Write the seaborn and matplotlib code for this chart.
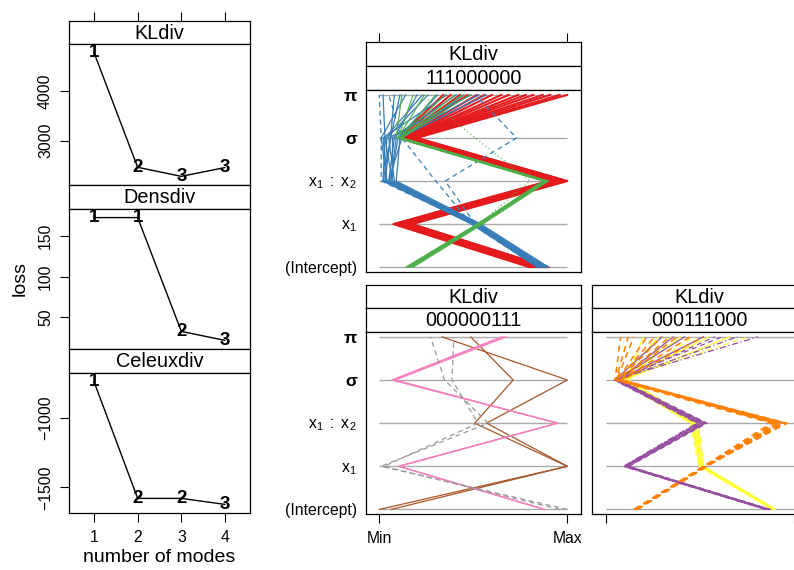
import matplotlib
matplotlib.use("Agg")
import matplotlib.pyplot as plt
import pandas as pd
import seaborn as sns

# ---------------- loss against number of modes ----------------
n_modes = [1, 2, 3, 4]
kl_loss = [4790, 2455, 2271, 2450]
kl_found = ["1", "2", "3", "3"]
dens_loss = [172, 172, 33, 22]
dens_found = ["1", "1", "2", "3"]
celeux_loss = [-742, -1578, -1578, -1621]
celeux_found = ["1", "2", "2", "3"]

kl_ticks = [3000, 4000]
dens_ticks = [50, 100, 150]
celeux_ticks = [-1500, -1000]

# ---------------- scaled coefficient profiles (0 = Min, 1 = Max) ----------------
# columns: (Intercept), x1, x1:x2, sigma, pi
coef_labels = ["(Intercept)", r"$\mathrm{x}_1$", r"$\mathrm{x}_1\ :\ \mathrm{x}_2$", "σ", "π"]

# mask 111000000
red_a = [
    [0.800, 0.075, 0.900, 0.100, 0.34],
    [0.806, 0.082, 0.907, 0.106, 0.38],
    [0.814, 0.088, 0.913, 0.114, 0.43],
    [0.820, 0.095, 0.921, 0.120, 0.47],
    [0.826, 0.101, 0.927, 0.127, 0.52],
    [0.834, 0.108, 0.933, 0.132, 0.56],
    [0.840, 0.116, 0.940, 0.140, 0.60],
    [0.846, 0.121, 0.948, 0.147, 0.65],
    [0.853, 0.128, 0.953, 0.154, 0.69],
    [0.861, 0.135, 0.960, 0.160, 0.74],
    [0.866, 0.142, 0.966, 0.167, 0.78],
    [0.874, 0.148, 0.973, 0.172, 0.82],
    [0.880, 0.155, 0.980, 0.180, 0.87],
    [0.887, 0.161, 0.987, 0.186, 0.91],
    [0.893, 0.168, 0.993, 0.194, 0.96],
    [0.900, 0.175, 1.000, 0.200, 1.00],
]
red_a_lty = ["solid"] * 16

blue_a = [
    [0.84, 0.49, 0.02, 0.03, 0.02],
    [0.85, 0.50, 0.03, 0.06, 0.08],
    [0.86, 0.50, 0.04, 0.01, 0.14],
    [0.85, 0.50, 0.05, 0.08, 0.20],
    [0.87, 0.51, 0.03, 0.04, 0.26],
    [0.88, 0.52, 0.06, 0.10, 0.31],
    [0.86, 0.51, 0.04, 0.02, 0.36],
    [0.88, 0.52, 0.07, 0.07, 0.41],
    [0.87, 0.52, 0.05, 0.12, 0.45],
    [0.89, 0.53, 0.08, 0.05, 0.49],
    [0.88, 0.53, 0.06, 0.09, 0.53],
    [0.90, 0.54, 0.09, 0.11, 0.57],
    [0.86, 0.51, 0.02, 0.06, 0.11],
    [0.89, 0.52, 0.07, 0.03, 0.23],
    [0.90, 0.50, 0.01, 0.01, 0.00],
    [0.86, 0.51, 0.35, 0.73, 0.51],
    [0.84, 0.49, 0.30, 0.12, 0.05],
]
blue_a_lty = ["solid"] * 14 + ["dashed"] * 3

green_a = [
    [0.14, 0.52, 0.87, 0.09, 0.12],
    [0.15, 0.52, 0.875, 0.10, 0.18],
    [0.15, 0.53, 0.88, 0.10, 0.24],
    [0.16, 0.53, 0.885, 0.11, 0.30],
    [0.16, 0.53, 0.89, 0.11, 0.35],
    [0.17, 0.54, 0.89, 0.12, 0.40],
    [0.17, 0.54, 0.895, 0.12, 0.44],
    [0.18, 0.55, 0.90, 0.12, 0.48],
    [0.17, 0.53, 0.80, 0.51, 0.23],
]
green_a_lty = ["solid"] * 8 + ["dotted"]

# mask 000000111
brown_b = [
    [0.000, 1.000, 0.570, 1.000, 0.333],
    [0.062, 1.000, 0.507, 0.712, 0.486],
]
brown_b_lty = ["solid", "solid"]

pink_b = [
    [0.880, 0.103, 0.948, 0.066, 0.650],
    [0.880, 0.103, 0.948, 0.075, 0.663],
    [0.880, 0.103, 0.948, 0.085, 0.676],
]
pink_b_lty = ["solid"] * 3

grey_b = [
    [1.000, 0.010, 0.578, 0.347, 0.272],
    [0.960, 0.025, 0.525, 0.386, 0.397],
]
grey_b_lty = ["dashed", "dashed"]

# mask 000111000
yellow_c = [
    [0.885, 0.495, 0.450, 0.070, 0.76],
    [0.888, 0.500, 0.456, 0.078, 0.28],
    [0.890, 0.503, 0.462, 0.085, 0.55],
    [0.893, 0.506, 0.468, 0.092, 0.40],
    [0.896, 0.510, 0.474, 0.100, 0.66],
    [0.899, 0.514, 0.480, 0.108, 0.20],
    [0.902, 0.518, 0.486, 0.115, 0.47],
    [0.905, 0.522, 0.492, 0.120, 0.35],
]
yellow_c_lty = ["dashed", "solid", "solid", "solid", "solid", "solid", "dashed", "solid"]

purple_c = [
    [0.850, 0.095, 0.485, 0.045, 0.81],
    [0.854, 0.099, 0.493, 0.050, 0.30],
    [0.858, 0.103, 0.500, 0.054, 0.62],
    [0.862, 0.107, 0.508, 0.058, 0.42],
    [0.866, 0.111, 0.516, 0.062, 0.70],
    [0.870, 0.115, 0.524, 0.066, 0.52],
    [0.874, 0.119, 0.532, 0.070, 0.36],
    [0.878, 0.124, 0.540, 0.075, 0.58],
]
purple_c_lty = ["dashdot", "solid", "dashed", "solid", "dashdot", "solid", "solid", "dashed"]

orange_c = [
    [0.150, 0.520, 0.880, 0.050, 0.08],
    [0.160, 0.530, 0.965, 0.058, 0.15],
    [0.155, 0.522, 0.905, 0.062, 0.22],
    [0.165, 0.535, 0.950, 0.054, 0.12],
    [0.152, 0.526, 0.925, 0.070, 0.30],
    [0.168, 0.540, 0.935, 0.066, 0.26],
    [0.158, 0.528, 0.893, 0.080, 0.38],
    [0.162, 0.533, 0.958, 0.085, 0.45],
    [0.170, 0.537, 0.915, 0.075, 0.34],
    [0.157, 0.531, 0.943, 0.090, 0.52],
]
orange_c_lty = ["dashed"] * 10

SET1 = {
    "red": "#E41A1C", "blue": "#377EB8", "green": "#4DAF4A",
    "purple": "#984EA3", "orange": "#FF7F00", "yellow": "#FFFF33",
    "brown": "#A65628", "pink": "#F781BF", "grey": "#999999",
}
DASHES = {"solid": "", "dashed": (4, 3), "dotted": (1, 2.5), "dashdot": (5, 2, 1, 2)}

# ---------------- styling ----------------
sns.set_theme(style="ticks")
plt.rcParams["font.family"] = ["Liberation Sans", "DejaVu Sans"]
plt.rcParams["mathtext.fontset"] = "custom"
plt.rcParams["mathtext.rm"] = "Liberation Sans"
plt.rcParams["mathtext.it"] = "Liberation Sans:italic"
plt.rcParams["mathtext.bf"] = "Liberation Sans:bold"
plt.rcParams["axes.linewidth"] = 0.9
plt.rcParams["axes.edgecolor"] = "black"
plt.rcParams["text.color"] = "black"
plt.rcParams["axes.labelcolor"] = "black"
plt.rcParams["xtick.color"] = "black"
plt.rcParams["ytick.color"] = "black"
plt.rcParams["xtick.labelcolor"] = "black"
plt.rcParams["ytick.labelcolor"] = "black"

W, H = 794, 570
fig = plt.figure(figsize=(W / 100, H / 100), dpi=100)

STRIP_SIZE = 14.3
TICK_SIZE = 11.3
TICK_LEN = 6.5


def box(x0, y0, x1, y1):
    return [x0 / W, 1 - y1 / H, (x1 - x0) / W, (y1 - y0) / H]


def strip(x0, y0, x1, y1, text):
    sax = fig.add_axes(box(x0, y0, x1, y1))
    sax.set_xticks([])
    sax.set_yticks([])
    sax.set_facecolor("white")
    sax.text(0.5, 0.47, text, ha="center", va="center", size=STRIP_SIZE,
             color="black", transform=sax.transAxes)
    return sax


# ---------------- left column ----------------
LX0, LX1 = 69, 250
left_xlim = (0.4275, 4.5725)
left_rows = [
    ("KLdiv", kl_loss, kl_found, kl_ticks, 21, 44, 185),
    ("Densdiv", dens_loss, dens_found, dens_ticks, 185, 209, 349),
    ("Celeuxdiv", celeux_loss, celeux_found, celeux_ticks, 349, 373, 513),
]
for i, (name, loss, found, yt, s0, p0, p1) in enumerate(left_rows):
    sax = strip(LX0, s0, LX1, p0, name)
    if i == 0:
        sax.set_xlim(left_xlim)
        sax.set_xticks(n_modes)
        sax.tick_params(axis="x", top=True, bottom=False, labeltop=False,
                        labelbottom=False, length=TICK_LEN, width=0.8, direction="out")
    ax = fig.add_axes(box(LX0, p0, LX1, p1))
    sns.lineplot(x=n_modes, y=loss, color="black", linewidth=1.0,
                 estimator=None, sort=False, ax=ax)
    for xv, yv, lab in zip(n_modes, loss, found):
        ax.text(xv, yv, lab, ha="center", va="center", fontsize=13.5,
                fontweight="bold", color="black")
    lo, hi = min(loss), max(loss)
    pad = 0.07 * (hi - lo)
    ax.set_ylim(lo - pad, hi + pad)
    ax.set_xlim(left_xlim)
    ax.set_yticks(yt)
    ax.set_yticklabels([f"{v:d}".replace("-", "\u2212") for v in yt])
    ax.tick_params(axis="y", left=True, right=False, length=TICK_LEN, width=0.8,
                   labelsize=TICK_SIZE, pad=5, labelrotation=90)
    for lab in ax.get_yticklabels():
        lab.set_va("center")
    ax.set_xticks(n_modes)
    last = i == len(left_rows) - 1
    ax.tick_params(axis="x", bottom=last, top=False, labelbottom=last,
                   length=TICK_LEN, width=0.8, labelsize=TICK_SIZE, pad=6)
    ax.set_xlabel("")
    ax.set_ylabel("")

fig.text(20 / W, 1 - 279 / H, "loss", rotation=90, ha="center", va="center", size=14)
fig.text(159.5 / W, 1 - 558 / H, "number of modes", ha="center", va="center", size=14)

# ---------------- right panels ----------------
levels = [1, 2, 3, 4, 5]
right_xlim = (-0.0707, 1.0707)
right_ylim = (0.895, 5.105)


def draw_cluster(ax, lines, ltys, color, lw):
    recs = []
    for k, (vals, lty) in enumerate(zip(lines, ltys)):
        for lvl, v in zip(levels, vals):
            recs.append({"line": k, "level": lvl, "value": v, "lty": lty})
    df = pd.DataFrame(recs)
    used = {s: DASHES[s] for s in df["lty"].unique()}
    sns.lineplot(data=df, x="value", y="level", units="line", estimator=None,
                 sort=False, style="lty", dashes=used, color=color,
                 linewidth=lw, legend=False, ax=ax)


def parallel_panel(x0, x1, s0, s1, p0, p1, mask, clusters, ylabels, bottom, toplabels=False):
    top = strip(x0, s0, x1, s1, "KLdiv")
    strip(x0, s1, x1, p0, mask)
    if toplabels:
        top.set_xlim(right_xlim)
        top.set_xticks([0, 1])
        top.tick_params(axis="x", top=True, bottom=False, labeltop=False,
                        labelbottom=False, length=TICK_LEN, width=0.8, direction="out")
    ax = fig.add_axes(box(x0, p0, x1, p1))
    ax.hlines(levels, 0, 1, colors="#AAAAAA", linewidth=1.0, zorder=0.5)
    for lines, ltys, col, lw in clusters:
        draw_cluster(ax, lines, ltys, SET1[col], lw)
    ax.set_xlim(right_xlim)
    ax.set_ylim(right_ylim)
    ax.set_yticks(levels)
    if ylabels:
        ax.set_yticklabels(coef_labels)
        for lab in ax.get_yticklabels()[3:]:
            lab.set_fontweight("bold")
            lab.set_fontsize(12.5)
    else:
        ax.set_yticklabels([])
    ax.tick_params(axis="y", left=False, right=False, length=0, pad=6.5,
                   labelsize=TICK_SIZE)
    if ylabels:
        for lab in ax.get_yticklabels()[3:]:
            lab.set_fontsize(12.5)
    ax.set_xticks([0, 1])
    if bottom == "labels":
        ax.set_xticklabels(["Min", "Max"])
        ax.tick_params(axis="x", bottom=True, labelbottom=True, length=TICK_LEN,
                       width=0.8, labelsize=TICK_SIZE, pad=6)
    elif bottom == "ticks":
        ax.tick_params(axis="x", bottom=True, labelbottom=False, length=TICK_LEN,
                       width=0.8)
    else:
        ax.tick_params(axis="x", bottom=False, labelbottom=False)
    ax.set_xlabel("")
    ax.set_ylabel("")
    return ax


parallel_panel(366, 580.7, 42.3, 65.7, 90.3, 271.7, "111000000",
               [(red_a, red_a_lty, "red", 1.5),
                (blue_a, blue_a_lty, "blue", 0.9),
                (green_a, green_a_lty, "green", 0.8)],
               ylabels=True, bottom=None, toplabels=True)
parallel_panel(366, 580.7, 285, 307.7, 332.3, 514, "000000111",
               [(brown_b, brown_b_lty, "brown", 0.9),
                (pink_b, pink_b_lty, "pink", 0.9),
                (grey_b, grey_b_lty, "grey", 0.9)],
               ylabels=True, bottom="labels")
parallel_panel(592.3, 807, 285, 307.7, 332.3, 514, "000111000",
               [(yellow_c, yellow_c_lty, "yellow", 0.9),
                (purple_c, purple_c_lty, "purple", 0.9),
                (orange_c, orange_c_lty, "orange", 1.1)],
               ylabels=False, bottom="ticks")

fig.savefig("out.png", dpi=100)
